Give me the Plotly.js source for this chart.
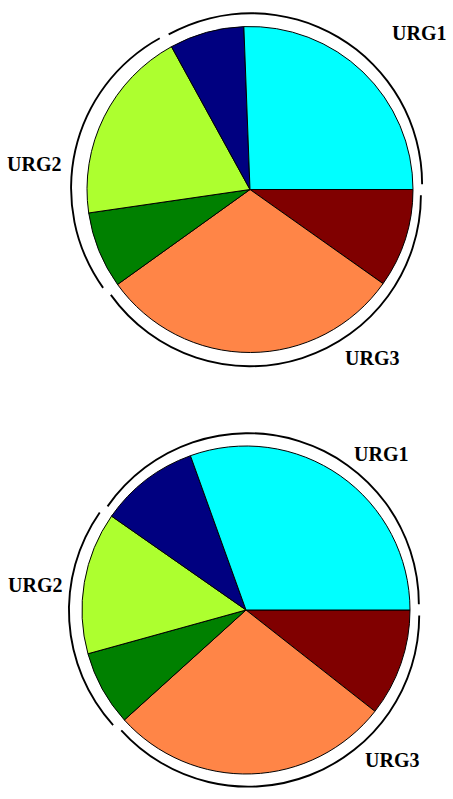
<!DOCTYPE html>
<html>
<head>
<meta charset="utf-8">
<script src="https://cdn.plot.ly/plotly-3.0.1.min.js"></script>
<style>
  body { margin: 0; padding: 0; background: #fff; }
  #c1 { width: 453px; height: 799px; }
</style>
</head>
<body>
<div id="c1"></div>
<script>
// slices, clockwise from 3 o'clock
var slices = ['s1', 's2', 's3', 's4', 's5', 's6'];
var colors = ['#800000', '#FF8547', '#008000', '#ADFF2F', '#000080', '#00FFFF'];
var top_vals = [9.8, 30.3, 7.6, 19.3, 7.4, 25.6];
var bot_vals = [10.6, 27.7, 7.4, 14.0, 9.8, 30.5];

// outer arcs group the slices
var groups = ['URG3', 'URG2', 'URG1'];
var group_of = [0, 0, 1, 1, 2, 2];

function groupSums(vals) {
	var s = [0, 0, 0];
	for (var i = 0; i < vals.length; i++) {
		s[group_of[i]] += vals[i];
	}
	return s;
}

var W = 453, H = 799;
function dom(cx, cy, r) {
	return {
		x: [(cx - r) / W, (cx + r) / W],
		y: [1 - (cy + r) / H, 1 - (cy - r) / H]
	};
}

var pull = 0.035;
function pieTrace(vals, d) {
	return {
		type: 'pie', values: vals, labels: slices, sort: false,
		direction: 'clockwise', rotation: 90,
		marker: {colors: colors, line: {color: '#000', width: 1}},
		textinfo: 'none', hoverinfo: 'skip', domain: d
	};
}
function ringTrace(vals, d) {
	var sums = groupSums(vals);
	return {
		type: 'pie', values: sums, labels: groups, sort: false,
		direction: 'clockwise', rotation: 90, hole: 0.989,
		pull: [pull, pull, pull],
		marker: {colors: ['#000', '#000', '#000'], line: {width: 0}},
		textinfo: 'none', hoverinfo: 'skip', domain: d
	};
}

var ringR = 172 * (1 + pull);
var data = [
	ringTrace(top_vals, dom(248, 189.5, ringR)),
	pieTrace(top_vals, dom(250, 189.5, 163)),
	ringTrace(bot_vals, dom(246, 610, ringR)),
	pieTrace(bot_vals, dom(246, 610, 164))
];

function lab(t, x, y) {
	return {
		text: '<b>' + t + '</b>',
		x: x / W, y: 1 - y / H, xref: 'paper', yref: 'paper',
		xanchor: 'center', yanchor: 'middle', showarrow: false,
		font: {family: 'Liberation Serif, Times New Roman, serif', size: 20, color: '#000'}
	};
}

var layout = {
	width: W, height: H,
	margin: {l: 0, r: 0, t: 0, b: 0},
	paper_bgcolor: '#fff',
	showlegend: false,
	annotations: [
		lab('URG1', 419, 33),
		lab('URG2', 34, 164),
		lab('URG3', 372, 358),
		lab('URG1', 381, 454),
		lab('URG2', 35, 585),
		lab('URG3', 392, 760)
	]
};

Plotly.newPlot('c1', data, layout, {staticPlot: true});
</script>
</body>
</html>
